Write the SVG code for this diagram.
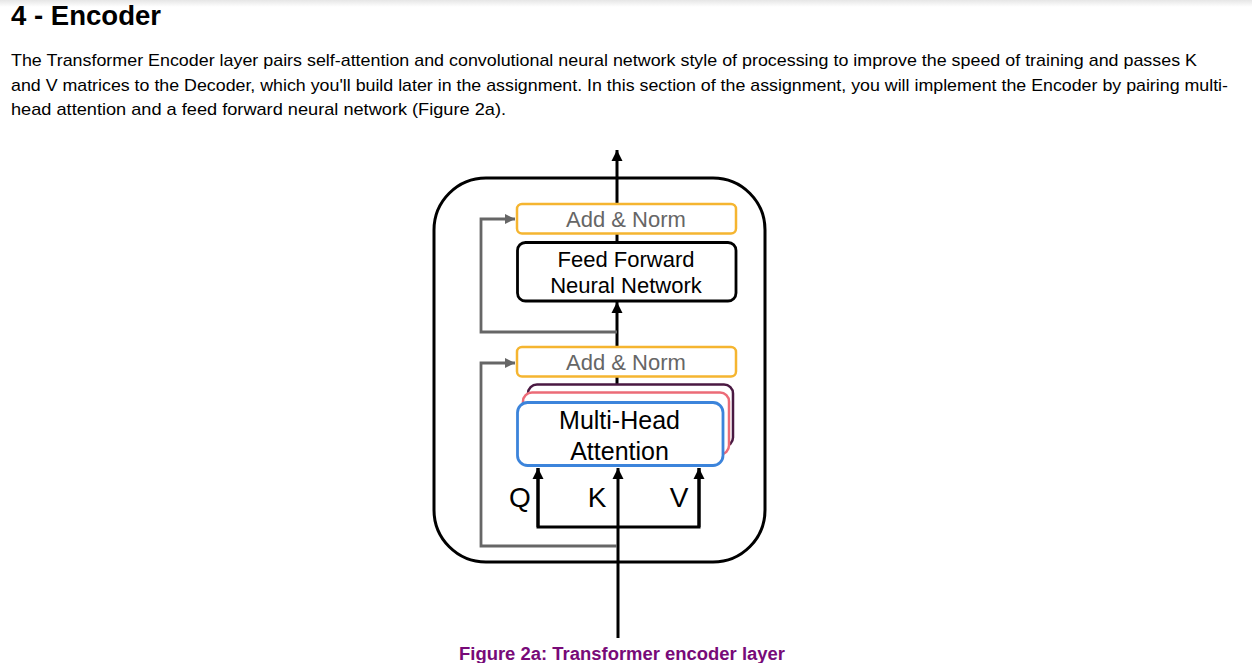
<svg xmlns="http://www.w3.org/2000/svg" width="1252" height="663" viewBox="0 0 1252 663">
<defs>
<linearGradient id="topShade" x1="0" y1="0" x2="0" y2="1">
<stop offset="0" stop-color="#e6e6e6"/>
<stop offset="1" stop-color="#ffffff"/>
</linearGradient>
<marker id="arrBlack" viewBox="0 0 10 10" refX="10" refY="5" markerWidth="3.8" markerHeight="3.8" orient="auto" markerUnits="strokeWidth">
<path d="M0,0 L10,5 L0,10 z" fill="#000"/>
</marker>
<marker id="arrGray" viewBox="0 0 10 10" refX="10" refY="5" markerWidth="3.6" markerHeight="3.6" orient="auto" markerUnits="strokeWidth">
<path d="M0,0 L10,5 L0,10 z" fill="#666"/>
</marker>
</defs>
<style>
.hdr{font-family:"Liberation Sans",Arial,sans-serif;font-weight:bold;font-size:27px;fill:#000}
.par{font-family:"Liberation Sans",Arial,sans-serif;font-size:17px;fill:#000}
.lbl{font-family:"Liberation Sans",Arial,sans-serif;fill:#000;text-anchor:middle}
.norm{fill:#fff;stroke:#F5B530;stroke-width:2.5}
.normtxt{font-family:"Liberation Sans",Arial,sans-serif;font-size:22px;fill:#666;text-anchor:middle}
.main{fill:none;stroke:#000;stroke-width:3}
.skip{fill:none;stroke:#666;stroke-width:2.8}
.cap{font-family:"Liberation Sans",Arial,sans-serif;font-weight:bold;font-size:18px;fill:#780A78;text-anchor:middle}
</style>
<rect x="0" y="0" width="1252" height="663" fill="#fff"/>
<rect x="0" y="0" width="1252" height="7" fill="url(#topShade)"/>

<text class="hdr" x="11" y="25" textLength="150" lengthAdjust="spacingAndGlyphs">4 - Encoder</text>
<text class="par" x="11" y="66" textLength="1186" lengthAdjust="spacingAndGlyphs">The Transformer Encoder layer pairs self-attention and convolutional neural network style of processing to improve the speed of training and passes K</text>
<text class="par" x="11" y="91" textLength="1217" lengthAdjust="spacingAndGlyphs">and V matrices to the Decoder, which you'll build later in the assignment. In this section of the assignment, you will implement the Encoder by pairing multi-</text>
<text class="par" x="11" y="115" textLength="495" lengthAdjust="spacingAndGlyphs">head attention and a feed forward neural network (Figure 2a).</text>

<g id="encoder-frame">
<rect x="434" y="178" width="331" height="384" rx="52" ry="52" fill="#fff" stroke="#000" stroke-width="3"/>
</g>

<g id="connectors">
<line class="main" x1="618" y1="638" x2="618" y2="468" marker-end="url(#arrBlack)"/>
<line class="main" x1="617" y1="376" x2="617" y2="386"/>
<line class="main" x1="617" y1="347" x2="617" y2="302" marker-end="url(#arrBlack)"/>
<line class="main" x1="617" y1="242" x2="617" y2="234"/>
<line class="main" x1="617" y1="204" x2="617" y2="150" marker-end="url(#arrBlack)"/>
<polyline class="main" points="538,468 538,527 699,527 699,468"/>
<line class="main" x1="538" y1="527" x2="538" y2="468" marker-end="url(#arrBlack)"/>
<line class="main" x1="699" y1="527" x2="699" y2="468" marker-end="url(#arrBlack)"/>
<polyline class="skip" points="617,546 481,546 481,363 515,363" marker-end="url(#arrGray)"/>
<polyline class="skip" points="617,332 481,332 481,219 515,219" marker-end="url(#arrGray)"/>
</g>

<g id="add-norm-top">
<rect class="norm" x="517" y="204" width="219" height="29.5" rx="5"/>
<text class="normtxt" x="626" y="227">Add &amp; Norm</text>
</g>

<g id="feed-forward">
<rect x="517.5" y="242.5" width="218.5" height="58.5" rx="8" fill="#fff" stroke="#000" stroke-width="2.8"/>
<text class="lbl" x="626" y="267" font-size="22">Feed Forward</text>
<text class="lbl" x="626" y="293" font-size="22">Neural Network</text>
</g>

<g id="add-norm-bottom">
<rect class="norm" x="517" y="347" width="219" height="29.5" rx="5"/>
<text class="normtxt" x="626" y="370">Add &amp; Norm</text>
</g>

<g id="multi-head-attention">
<rect x="528" y="384.5" width="205" height="62" rx="9" fill="#fff" stroke="#4A1942" stroke-width="2.5"/>
<rect x="523" y="392.5" width="206" height="62" rx="9" fill="#fff" stroke="#EC6B77" stroke-width="2.5"/>
<rect x="517.5" y="402.5" width="205.5" height="63" rx="10" fill="#fff" stroke="#3C84DB" stroke-width="2.8"/>
<text class="lbl" x="619.5" y="429" font-size="25">Multi-Head</text>
<text class="lbl" x="619.5" y="460" font-size="25">Attention</text>
</g>

<g id="qkv-labels">
<text class="lbl" x="520" y="507" font-size="28">Q</text>
<text class="lbl" x="597" y="507" font-size="28">K</text>
<text class="lbl" x="679" y="507" font-size="28">V</text>
</g>

<text class="cap" x="622" y="660" textLength="326" lengthAdjust="spacingAndGlyphs">Figure 2a: Transformer encoder layer</text>
</svg>
